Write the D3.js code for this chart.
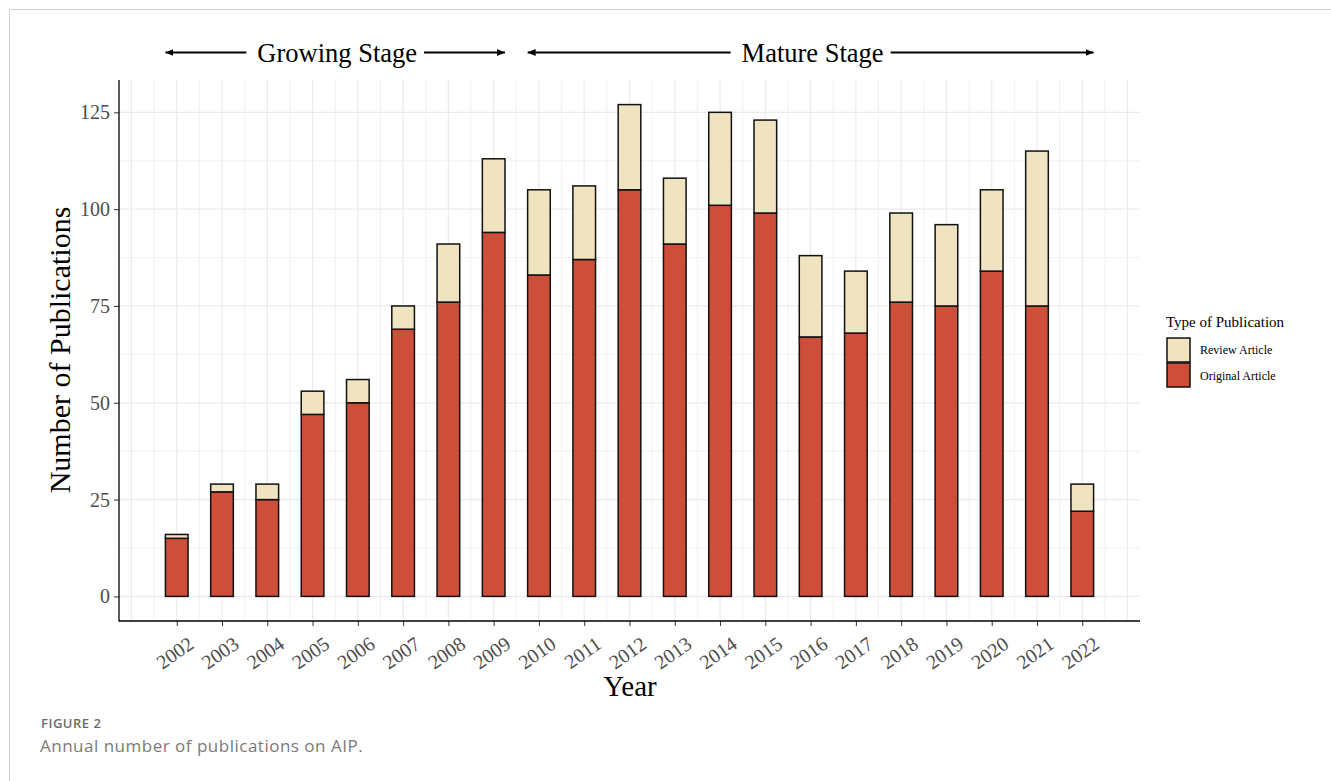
<!DOCTYPE html>
<html><head><meta charset="utf-8">
<script src="https://cdn.jsdelivr.net/npm/d3@7"></script>
<style>body{margin:0;background:#fff;}svg{display:block;}</style>
</head><body>
<script>
const years = [2002,2003,2004,2005,2006,2007,2008,2009,2010,2011,2012,2013,2014,2015,2016,2017,2018,2019,2020,2021,2022];
const totals = [16,29,29,53,56,75,91,113,105,106,127,108,125,123,88,84,99,96,105,115,29];
const original = [15,27,25,47,50,69,76,94,83,87,105,91,101,99,67,68,76,75,84,75,22];
const review = totals.map((t,i)=>t-original[i]);
const yTicks = [0,25,50,75,100,125];
const seriesNames = ["Review Article","Original Article"];
const stages = [{label:"Growing Stage", from:2001.75, to:2009.25},{label:"Mature Stage", from:2009.75, to:2022.25}];

const W=1331,H=781;
const svg=d3.select("body").append("svg").attr("width",W).attr("height",H);
const defs=svg.append("defs");
defs.append("marker").attr("id","ah").attr("viewBox","0 0 10 10").attr("refX",10).attr("refY",5)
 .attr("markerWidth",8).attr("markerHeight",7).attr("markerUnits","userSpaceOnUse").attr("orient","auto-start-reverse")
 .attr("preserveAspectRatio","none")
 .append("path").attr("d","M0,0L10,5L0,10z").attr("fill","#000");
// frame
svg.append("line").attr("x1",9.5).attr("x2",W).attr("y1",9.5).attr("y2",9.5).attr("stroke","#cfcfcf");
svg.append("line").attr("x1",9.5).attr("x2",9.5).attr("y1",9.5).attr("y2",H).attr("stroke","#cfcfcf");

const L=119,R=1140,T=80,B=621;
const x=d3.scaleLinear().domain([2000.725,2023.275]).range([L,R]);
const y=d3.scaleLinear().domain([-6.35,133.35]).range([B,T]);
const g=svg.append("g");
// grid
const minorX=d3.range(2001,2023.6,0.5).filter(v=>x(v)>L&&x(v)<R);
g.selectAll(".gx").data(minorX).join("line").attr("x1",d=>x(d)).attr("x2",d=>x(d)).attr("y1",T).attr("y2",B)
 .attr("stroke","#ebebeb").attr("stroke-width",d=>Number.isInteger(d)?1.2:0.7);
const gyv=d3.range(0,133,12.5);
g.selectAll(".gy").data(gyv).join("line").attr("x1",L).attr("x2",R).attr("y1",d=>y(d)).attr("y2",d=>y(d))
 .attr("stroke","#ebebeb").attr("stroke-width",d=>d%25===0?1.2:0.7);
// bars
const bw=0.5;
const colO="#CD4F3A", colR="#F0E3C0";
g.selectAll(".bo").data(years).join("rect")
 .attr("x",(d)=>x(d-bw/2)).attr("width",x(bw)-x(0))
 .attr("y",(d,i)=>y(original[i])).attr("height",(d,i)=>y(0)-y(original[i]))
 .attr("fill",colO).attr("stroke","#111").attr("stroke-width",1.5);
g.selectAll(".br").data(years).join("rect")
 .attr("x",(d)=>x(d-bw/2)).attr("width",x(bw)-x(0))
 .attr("y",(d,i)=>y(totals[i])).attr("height",(d,i)=>y(original[i])-y(totals[i]))
 .attr("fill",colR).attr("stroke","#111").attr("stroke-width",1.5);
// axes
const yAx=svg.append("g").attr("transform",`translate(${L},0)`)
 .call(d3.axisLeft(y).tickValues(yTicks).tickSize(5).tickPadding(4));
yAx.select(".domain").remove();
svg.append("line").attr("x1",L).attr("x2",L).attr("y1",T).attr("y2",B+0.5).attr("stroke","#000").attr("stroke-width",1.3);
yAx.selectAll("line").attr("stroke","#333");
yAx.selectAll("text").attr("font-family","Liberation Serif").attr("font-size",20).attr("fill","#4d4d4d");
const xAx=svg.append("g").attr("transform",`translate(0,${B})`)
 .call(d3.axisBottom(x).tickValues(years).tickFormat(d3.format("d")).tickSize(5));
xAx.select(".domain").remove();
svg.append("line").attr("x1",L).attr("x2",R).attr("y1",B).attr("y2",B).attr("stroke","#000").attr("stroke-width",1.3);
xAx.selectAll("line").attr("stroke","#333");
xAx.selectAll("text").attr("font-family","Liberation Serif").attr("font-size",20).attr("fill","#4d4d4d")
 .attr("text-anchor","end").attr("dy",null).attr("y",0).attr("transform","translate(18,26) rotate(-35)");
// titles
svg.append("text").attr("x",630).attr("y",696).attr("text-anchor","middle").attr("font-family","Liberation Serif").attr("font-size",29).text("Year");
svg.append("text").attr("transform","translate(70,350) rotate(-90)").attr("text-anchor","middle").attr("font-family","Liberation Serif").attr("font-size",30).text("Number of Publications");
// stage annotations
stages.forEach(s=>{
  const cx=(x(s.from)+x(s.to))/2+2;
  const t=svg.append("text").attr("x",cx).attr("y",62).attr("text-anchor","middle").attr("font-family","Liberation Serif").attr("font-size",26.5).text(s.label);
  const w=t.node().getComputedTextLength();
  svg.append("line").attr("x1",cx-w/2-11).attr("x2",x(s.from)).attr("y1",52.5).attr("y2",52.5).attr("stroke","#000").attr("stroke-width",2).attr("marker-end","url(#ah)");
  svg.append("line").attr("x1",cx+w/2+7).attr("x2",x(s.to)).attr("y1",52.5).attr("y2",52.5).attr("stroke","#000").attr("stroke-width",2).attr("marker-end","url(#ah)");
});
// legend
const lg=svg.append("g").attr("transform","translate(1166,0)");
lg.append("text").attr("x",0).attr("y",327).attr("font-family","Liberation Serif").attr("font-size",15).text("Type of Publication");
[colR,colO].forEach((c,i)=>{
  lg.append("rect").attr("x",1).attr("y",338+i*25).attr("width",23).attr("height",24).attr("fill",c).attr("stroke","#111").attr("stroke-width",1.5);
  lg.append("text").attr("x",34).attr("y",354+i*26).attr("font-family","Liberation Serif").attr("font-size",12).text(seriesNames[i]);
});
// caption
svg.append("text").attr("x",41).attr("y",728).attr("font-family","Open Sans").attr("font-weight",600).attr("font-size",13).attr("letter-spacing",0.5).attr("fill","#6b6b6b").text("FIGURE 2");
svg.append("text").attr("x",40).attr("y",752).attr("font-family","Open Sans").attr("font-size",17).attr("letter-spacing",0.5).attr("fill","#7a7a7a").text("Annual number of publications on AIP.");
</script>
</body></html>
